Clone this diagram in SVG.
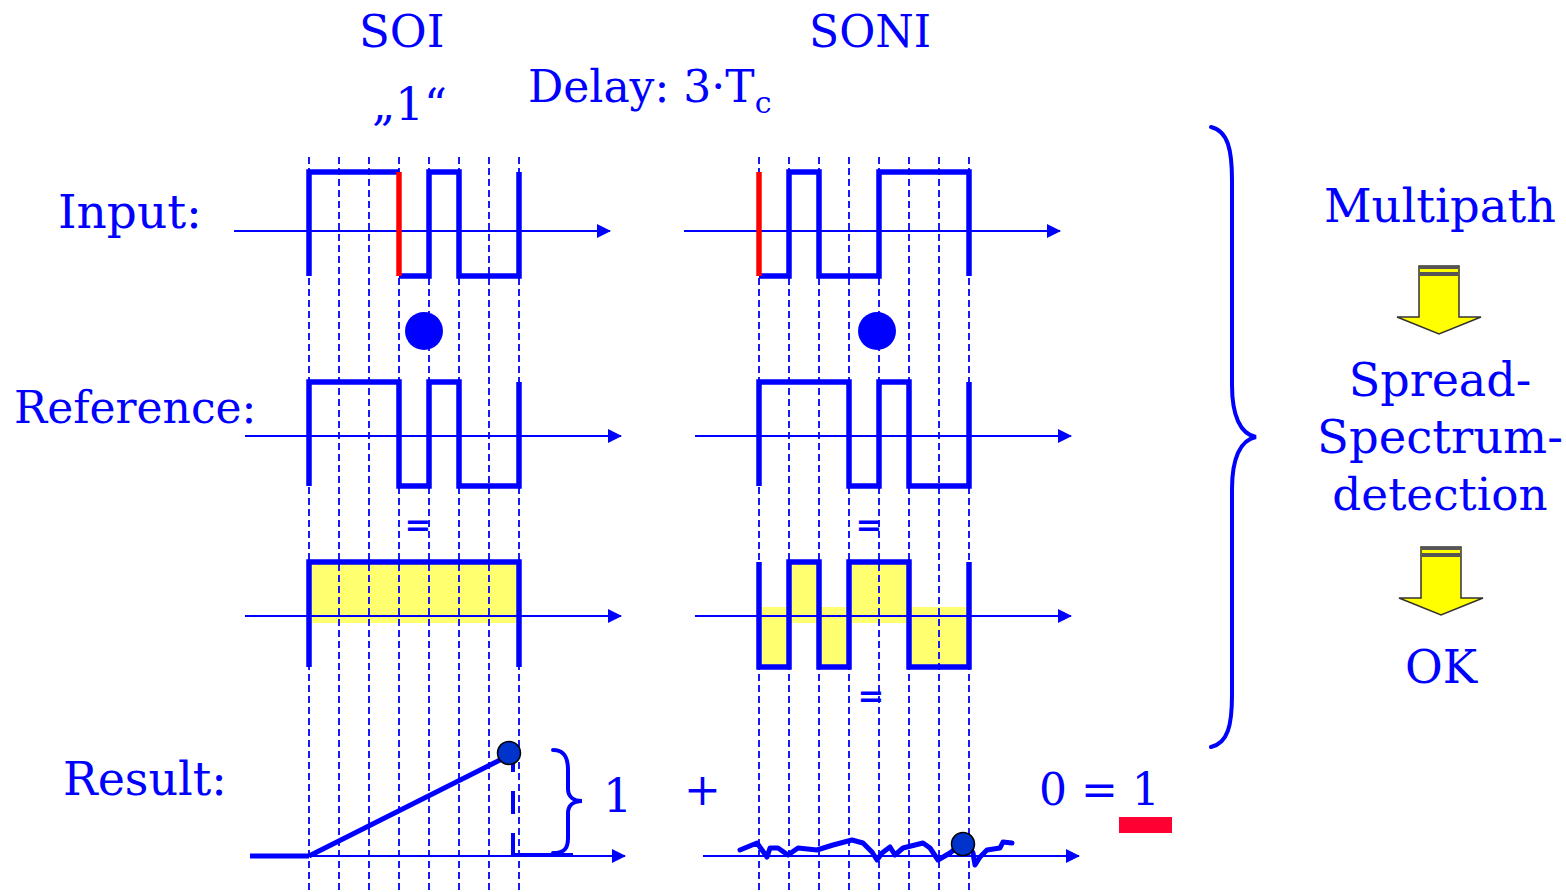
<svg xmlns="http://www.w3.org/2000/svg" width="1566" height="892" viewBox="0 0 1566 892">
<style>
text{font-family:"DejaVu Serif","Liberation Serif",serif;font-size:46px;fill:#0000ff}
.grid{stroke:#0000ff;stroke-width:1.8;stroke-dasharray:7 4;fill:none}
.axis{stroke:#0000ff;stroke-width:2.2;fill:none}
.wave{stroke:#0000ff;stroke-width:5.5;fill:none;stroke-linejoin:miter}
.red{stroke:#ff0000;stroke-width:5.5;fill:none}
.yel{fill:#ffff70;stroke:none}
.brace{stroke:#0000ff;stroke-width:4;fill:none;stroke-linecap:round}
.dot{fill:#0000ff}
.rdot{fill:#0033cc;stroke:#000;stroke-width:1.5}
.yarrow{fill:#ffff00;stroke:#333;stroke-width:1.5}
.stripe{fill:#555}
.eq{font-size:32px;font-weight:bold}
</style>
<defs>
<marker id="arr" viewBox="0 0 14 14" refX="13" refY="7" markerWidth="14" markerHeight="14" markerUnits="userSpaceOnUse" orient="auto">
<path d="M0,0 L14,7 L0,14 z" fill="#0000ff"/>
</marker>
<g id="yarrowshape">
<polygon class="yarrow" points="1419,266 1459,266 1459,317 1481,317 1439,334 1397,317 1419,317"/>
<rect class="stripe" x="1420" y="266" width="38" height="3"/>
<rect class="stripe" x="1420" y="272" width="38" height="4"/>
</g>
</defs>

<g id="titles">
<text x="359" y="47" style="font-size:45px">SOI</text>
<text x="809" y="47" style="font-size:44px">SONI</text>
<text x="372" y="120" style="font-size:45px">„1“</text>
<text x="528" y="102" style="font-size:44px">Delay: 3·T<tspan style="font-size:30px" dy="11">c</tspan></text>
</g>

<g id="labels">
<text x="58" y="228" style="font-size:47px">Input:</text>
<text x="14" y="423" style="font-size:44px">Reference:</text>
<text x="63" y="795">Result:</text>
</g>

<g id="yellow">
<rect class="yel" x="311" y="564" width="206" height="59"/>
<rect class="yel" x="762" y="607" width="27" height="58"/>
<rect class="yel" x="789" y="564" width="30" height="59"/>
<rect class="yel" x="819" y="607" width="30" height="58"/>
<rect class="yel" x="849" y="564" width="60" height="59"/>
<rect class="yel" x="909" y="607" width="58" height="58"/>
</g>

<g id="grid">
<path class="grid" d="M309,157V892M339,157V892M369,157V892M399,157V892M429,157V892M459,157V892M489,157V892M519,157V892"/>
<path class="grid" d="M759,157V892M789,157V892M819,157V892M849,157V892M879,157V892M909,157V892M939,157V892M969,157V892"/>
</g>

<g id="connectors">
<line class="axis" x1="234" y1="231" x2="610" y2="231" marker-end="url(#arr)"/>
<line class="axis" x1="684" y1="231" x2="1060" y2="231" marker-end="url(#arr)"/>
<line class="axis" x1="245" y1="436" x2="621" y2="436" marker-end="url(#arr)"/>
<line class="axis" x1="695" y1="436" x2="1071" y2="436" marker-end="url(#arr)"/>
<line class="axis" x1="245" y1="616" x2="621" y2="616" marker-end="url(#arr)"/>
<line class="axis" x1="695" y1="616" x2="1071" y2="616" marker-end="url(#arr)"/>
<line class="axis" x1="250" y1="856" x2="625" y2="856" marker-end="url(#arr)"/>
<line class="axis" x1="703" y1="856" x2="1079" y2="856" marker-end="url(#arr)"/>
</g>

<g id="soi-input">
<path class="wave" d="M309,276V172H399M399,276H429V172H459V276H519V172"/>
<path class="red" d="M399,172V276"/>
</g>
<g id="soni-input">
<path class="wave" d="M759,276H789V172H819V276H879V172H969V276"/>
<path class="red" d="M759,172V276"/>
</g>

<g id="mult-dots">
<circle class="dot" cx="424" cy="331" r="19"/>
<circle class="dot" cx="877" cy="331" r="19"/>
</g>

<g id="soi-reference">
<path class="wave" d="M309,486V382H399V486H429V382H459V486H519V382"/>
</g>
<g id="soni-reference">
<path class="wave" d="M759,486V382H849V486H879V382H909V486H969V382"/>
</g>

<g id="equals">
<text class="eq" x="418" y="536" text-anchor="middle">=</text>
<text class="eq" x="869" y="536" text-anchor="middle">=</text>
<text class="eq" x="871" y="707" text-anchor="middle">=</text>
</g>

<g id="soi-product">
<path class="wave" d="M309,667V562H519V667"/>
</g>
<g id="soni-product">
<path class="wave" d="M759,562V667H789V562H819V667H849V562H909V667H969V562"/>
</g>

<g id="soi-result">
<line x1="250" y1="856" x2="309" y2="856" stroke="#0000ff" stroke-width="5"/>
<line x1="309" y1="856" x2="506" y2="757" stroke="#0000ff" stroke-width="5"/>
<path d="M513,856V763" stroke="#0000ff" stroke-width="4" stroke-dasharray="23 19" fill="none"/>
<line x1="513" y1="855" x2="573" y2="855" stroke="#0000ff" stroke-width="4"/>
<circle class="rdot" cx="509" cy="753" r="11.5"/>
<path class="brace" d="M553,750C566,750 568,760 568,770L568,789C568,797 574,801 582,801C574,801 568,805 568,813L568,838C568,848 565,853 553,853"/>
<text x="603" y="812">1</text>
</g>

<g id="soni-result">
<path d="M740,850L757,843L762,850L767,857L770,848L778,848L788,855L798,848L817,850L833,845L852,840L863,843L872,852L877,860L882,853L890,847L895,855L903,848L923,843L930,848L938,860L950,853L960,845L968,843L973,853L975,865L980,857L987,850L1000,848L1003,842L1012,843" stroke="#0000ff" stroke-width="5" fill="none" stroke-linejoin="round" stroke-linecap="round"/>
<circle class="rdot" cx="963" cy="844" r="11.5"/>
<text x="684" y="805" style="font-size:44px">+</text>
<text x="1039" y="805" style="font-size:44px">0 = 1</text>
<rect x="1119" y="817" width="53" height="16" fill="#ff0033"/>
</g>

<g id="brace-right">
<path class="brace" d="M1211,127C1228,131 1232,150 1232,180L1232,385C1232,415 1240,434 1256,437C1240,440 1232,459 1232,489L1232,695C1232,725 1228,743 1211,747"/>
</g>

<g id="conclusion">
<text x="1440" y="222" text-anchor="middle" style="font-size:46.5px">Multipath</text>
<use href="#yarrowshape"/>
<text x="1440" y="396" text-anchor="middle">Spread-</text>
<text x="1440" y="453" text-anchor="middle" style="font-size:46.5px">Spectrum-</text>
<text x="1440" y="510" text-anchor="middle" style="font-size:45.3px">detection</text>
<use href="#yarrowshape" transform="translate(2,281)"/>
<text x="1441" y="683" text-anchor="middle">OK</text>
</g>
</svg>
